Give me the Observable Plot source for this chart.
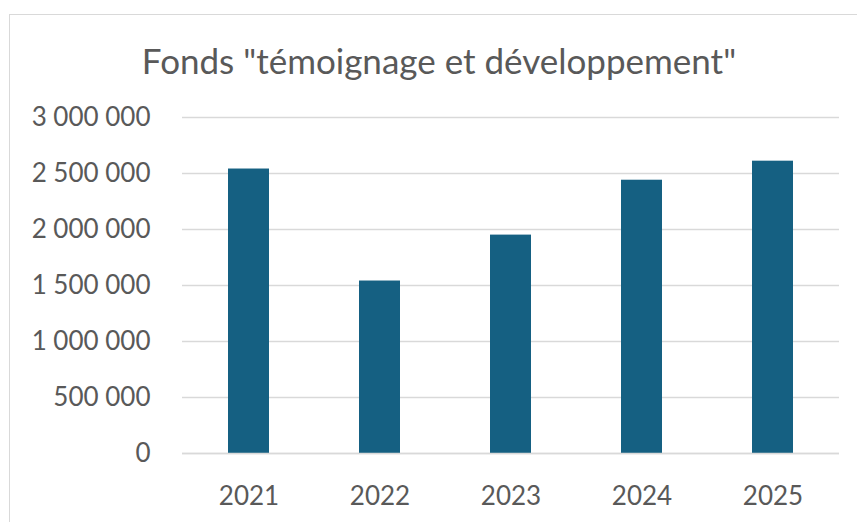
<!DOCTYPE html>
<html>
<head>
<meta charset="utf-8">
<script src="https://cdn.jsdelivr.net/npm/d3@7"></script>
<script src="https://cdn.jsdelivr.net/npm/@observablehq/plot@0.6"></script>
<style>
  html, body { margin: 0; padding: 0; background: #fff; width: 857px; height: 522px; overflow: hidden; }
  #frame { position: absolute; left: 9px; top: 14px; width: 860px; height: 520px; border: 1.5px solid #d9d9d9; box-sizing: border-box; }
  #title { position: absolute; left: 0; top: 43px; width: 878px; text-align: center; font-family: Lato, "Open Sans", sans-serif; font-size: 35px; color: #595959; line-height: 1; margin: 0; font-weight: normal; }
  #chart { position: absolute; left: 0; top: 90px; }
</style>
</head>
<body>
<div id="frame"></div>
<h2 id="title">Fonds "témoignage et développement"</h2>
<div id="chart"></div>
<script>
const years = ["2021", "2022", "2023", "2024", "2025"];
const amounts = [2540000, 1540000, 1950000, 2440000, 2610000];
const yTicks = [0, 500000, 1000000, 1500000, 2000000, 2500000, 3000000];

const data = years.map((y, i) => ({year: y, value: amounts[i]}));
const fmt = d3.formatLocale({decimal: ",", thousands: " ", grouping: [3], currency: ["", " €"]}).format(",");

const chart = Plot.plot({
  width: 857,
  height: 432,
  marginLeft: 182,
  marginRight: 18,
  marginTop: 27,
  marginBottom: 69,
  style: {fontFamily: "Lato, 'Open Sans', sans-serif", fontSize: "26px", color: "#595959", background: "transparent", overflow: "visible"},
  x: {domain: years, paddingInner: 0.69, paddingOuter: 0.345, label: null},
  y: {domain: [0, 3000000], label: null},
  marks: [
    Plot.gridY(yTicks, {stroke: "#d9d9d9", strokeOpacity: 1, strokeWidth: 1.5}),
    Plot.barY(data, {x: "year", y: "value", fill: "#156082"}),
    Plot.ruleY([0], {stroke: "#d9d9d9", strokeWidth: 1.5}),
    Plot.axisY(yTicks, {tickSize: 0, tickPadding: 32, tickFormat: fmt, fill: "#595959", label: null}),
    Plot.axisX({tickSize: 0, tickPadding: 33, fill: "#595959", label: null})
  ]
});
document.getElementById("chart").appendChild(chart);
</script>
</body>
</html>
